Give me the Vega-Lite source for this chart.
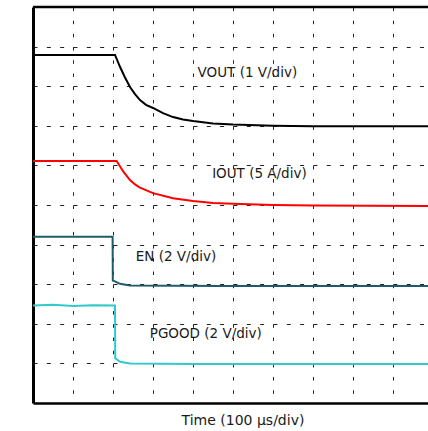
{
  "$schema": "https://vega.github.io/schema/vega-lite/v6.json",
  "width": 395,
  "height": 396,
  "autosize": {"type": "none"},
  "padding": {"left": 33, "top": 7, "right": 0, "bottom": 28},
  "background": "white",
  "config": {
    "view": {"stroke": null},
    "axis": {"domainColor": "#000000", "gridColor": "#222222", "gridWidth": 1, "ticks": false, "labels": false}
  },
  "datasets": {
    "traces": [
      {"t": 0, "v": 8.79, "s": "VOUT"},
      {"t": 2.05, "v": 8.79, "s": "VOUT"},
      {"t": 2.175, "v": 8.49, "s": "VOUT"},
      {"t": 2.3, "v": 8.22, "s": "VOUT"},
      {"t": 2.425, "v": 7.98, "s": "VOUT"},
      {"t": 2.55, "v": 7.8, "s": "VOUT"},
      {"t": 2.675, "v": 7.65, "s": "VOUT"},
      {"t": 2.825, "v": 7.53, "s": "VOUT"},
      {"t": 3.0, "v": 7.45, "s": "VOUT"},
      {"t": 3.25, "v": 7.32, "s": "VOUT"},
      {"t": 3.5, "v": 7.22, "s": "VOUT"},
      {"t": 3.75, "v": 7.16, "s": "VOUT"},
      {"t": 4.0, "v": 7.12, "s": "VOUT"},
      {"t": 4.5, "v": 7.06, "s": "VOUT"},
      {"t": 5.0, "v": 7.03, "s": "VOUT"},
      {"t": 6.0, "v": 7.0, "s": "VOUT"},
      {"t": 7.0, "v": 6.99, "s": "VOUT"},
      {"t": 9.875, "v": 6.99, "s": "VOUT"},
      {"t": 0, "v": 6.11, "s": "IOUT"},
      {"t": 2.09, "v": 6.11, "s": "IOUT"},
      {"t": 2.26, "v": 5.84, "s": "IOUT"},
      {"t": 2.425, "v": 5.63, "s": "IOUT"},
      {"t": 2.55, "v": 5.52, "s": "IOUT"},
      {"t": 2.675, "v": 5.44, "s": "IOUT"},
      {"t": 3.0, "v": 5.3, "s": "IOUT"},
      {"t": 3.5, "v": 5.17, "s": "IOUT"},
      {"t": 4.0, "v": 5.1, "s": "IOUT"},
      {"t": 4.5, "v": 5.05, "s": "IOUT"},
      {"t": 5.0, "v": 5.03, "s": "IOUT"},
      {"t": 6.0, "v": 5.0, "s": "IOUT"},
      {"t": 7.0, "v": 4.99, "s": "IOUT"},
      {"t": 9.875, "v": 4.975, "s": "IOUT"},
      {"t": 0, "v": 4.2, "s": "EN"},
      {"t": 1.99, "v": 4.2, "s": "EN"},
      {"t": 1.995, "v": 3.09, "s": "EN"},
      {"t": 2.05, "v": 3.07, "s": "EN"},
      {"t": 2.175, "v": 3.01, "s": "EN"},
      {"t": 2.425, "v": 2.97, "s": "EN"},
      {"t": 4.675, "v": 2.955, "s": "EN"},
      {"t": 9.875, "v": 2.955, "s": "EN"},
      {"t": 0, "v": 2.46, "s": "PGOOD"},
      {"t": 0.5, "v": 2.48, "s": "PGOOD"},
      {"t": 1.0, "v": 2.45, "s": "PGOOD"},
      {"t": 1.5, "v": 2.47, "s": "PGOOD"},
      {"t": 2.05, "v": 2.46, "s": "PGOOD"},
      {"t": 2.055, "v": 1.13, "s": "PGOOD"},
      {"t": 2.175, "v": 1.04, "s": "PGOOD"},
      {"t": 2.425, "v": 1.0, "s": "PGOOD"},
      {"t": 4.0, "v": 0.985, "s": "PGOOD"},
      {"t": 9.875, "v": 0.985, "s": "PGOOD"}
    ],
    "labels": [
      {"t": 5.36, "v": 8.22, "label": "VOUT (1 V/div)"},
      {"t": 5.66, "v": 5.67, "label": "IOUT (5 A/div)"},
      {"t": 3.575, "v": 3.59, "label": "EN (2 V/div)"},
      {"t": 4.32, "v": 1.63, "label": "PGOOD (2 V/div)"}
    ],
    "frame": [{"v": 10}]
  },
  "layer": [
    {
      "data": {"name": "traces"},
      "mark": {"type": "line", "clip": true, "interpolate": "linear"},
      "encoding": {
        "x": {
          "field": "t", "type": "quantitative",
          "scale": {"domain": [0, 9.875], "nice": false, "zero": false},
          "axis": {"orient": "bottom", "domain": true, "domainWidth": 2.5, "grid": true,
             "values": [1, 2, 3, 4, 5, 6, 7, 8, 9], "gridDash": [3.5, 9.7],
             "title": "Time (100 µs/div)", "titleFont": "DejaVu Sans", "titleFontSize": 14,
             "titleFontWeight": "normal", "titleColor": "#1a1a1a", "titleX": 209.5, "titleY": 21,
             "titleBaseline": "alphabetic", "titleAlign": "center"}
        },
        "y": {
          "field": "v", "type": "quantitative",
          "scale": {"domain": [0, 10], "nice": false, "zero": false},
          "axis": {"orient": "left", "domain": true, "domainWidth": 3, "grid": true,
                   "values": [1, 2, 3, 4, 5, 6, 7, 8, 9], "gridDash": [4, 9.33], "title": null}
        },
        "detail": {"field": "s"},
        "color": {
          "field": "s", "type": "nominal", "legend": null,
          "scale": {"domain": ["VOUT", "IOUT", "EN", "PGOOD"], "range": ["#000000", "#ff0000", "#1d5a6a", "#33c8cc"]}
        },
        "strokeWidth": {
          "field": "s", "type": "nominal", "legend": null,
          "scale": {"domain": ["VOUT", "IOUT", "EN", "PGOOD"], "range": [2, 2, 2, 2.6]}
        }
      }
    },
    {
      "data": {"name": "frame"},
      "mark": {"type": "rule", "color": "#000000", "strokeWidth": 2.5},
      "encoding": {
        "y": {"field": "v", "type": "quantitative"}
      }
    },
    {
      "data": {"name": "labels"},
      "mark": {"type": "text", "font": "DejaVu Sans", "fontSize": 13.5, "align": "center", "baseline": "alphabetic", "color": "#1a1a1a"},
      "encoding": {
        "x": {"field": "t", "type": "quantitative"},
        "y": {"field": "v", "type": "quantitative"},
        "text": {"field": "label"}
      }
    }
  ]
}
